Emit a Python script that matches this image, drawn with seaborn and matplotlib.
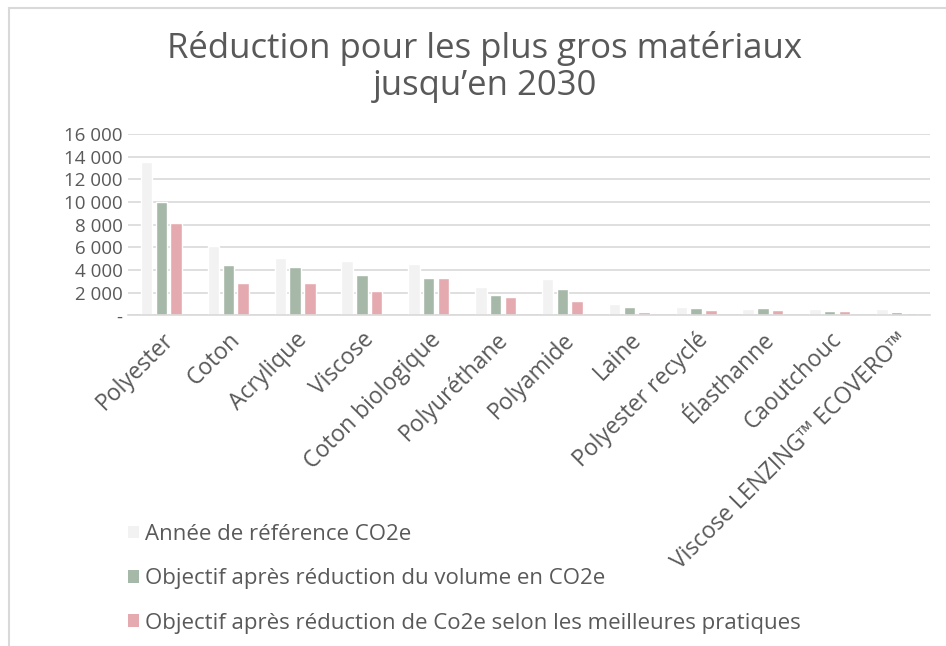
import matplotlib.pyplot as plt
import matplotlib.ticker as mticker
from matplotlib.patches import Patch, Rectangle
import pandas as pd
import seaborn as sns


MATERIALS = [
    "Polyester", "Coton", "Acrylique", "Viscose", "Coton biologique",
    "Polyuréthane", "Polyamide", "Laine", "Polyester recyclé",
    "Élasthanne", "Caoutchouc", "Viscose LENZING™ ECOVERO™",
]
SERIES = [
    "Année de référence CO2e",
    "Objectif après réduction du volume en CO2e",
    "Objectif après réduction de Co2e selon les meilleures pratiques",
]
BASELINE = [13550, 6100, 5100, 4800, 4550, 2500, 3200, 970, 730, 560, 560, 560]
VOLUME_TARGET = [10000, 4470, 4270, 3560, 3330, 1800, 2350, 730, 620, 620, 380, 320]
BEST_PRACTICE = [8120, 2880, 2820, 2150, 3330, 1620, 1290, 290, 500, 440, 350, 180]
COLORS = ["#F2F2F2", "#A6B9A8", "#E4AAAF"]
TEXT_COLOR = "#595959"
GRID_COLOR = "#D9D9D9"

df = pd.DataFrame({
    "material": MATERIALS * 3,
    "series": [s for s in SERIES for _ in MATERIALS],
    "value": BASELINE + VOLUME_TARGET + BEST_PRACTICE,
})

sns.set_theme(style="white")
plt.rcParams["font.family"] = ["Open Sans", "DejaVu Sans"]

fig = plt.figure(figsize=(9.46, 6.46), dpi=100)
ax = fig.add_axes([128 / 946, 1 - 315.3 / 646, (930 - 128) / 946, (315.3 - 134) / 646])

sns.barplot(
    data=df, x="material", y="value", hue="series", order=MATERIALS,
    hue_order=SERIES, palette=COLORS, width=0.66, gap=0.22,
    saturation=1, ax=ax, legend=False,
)

ax.set_ylim(0, 16000)
ax.set_xlim(-0.5, len(MATERIALS) - 0.5)
ax.yaxis.set_major_locator(mticker.MultipleLocator(2000))
ax.yaxis.set_major_formatter(
    mticker.FuncFormatter(lambda v, _: "-" if v == 0 else f"{int(v):,}".replace(",", " "))
)
ax.grid(axis="y", color=GRID_COLOR, linewidth=1.2)
ax.set_axisbelow(True)
for side in ["top", "right", "left"]:
    ax.spines[side].set_visible(False)
ax.spines["bottom"].set_color(GRID_COLOR)
ax.spines["bottom"].set_linewidth(1.2)
ax.set_xlabel("")
ax.set_ylabel("")
ax.tick_params(axis="both", length=0, colors=TEXT_COLOR)
ax.tick_params(axis="y", pad=4, labelsize=13.5)
ax.tick_params(axis="x", pad=9, labelsize=16.5)
plt.setp(ax.get_xticklabels(), rotation=45, ha="right", rotation_mode="anchor")

fig.text(485 / 946, 1 - 67 / 646, "Réduction pour les plus gros matériaux\njusqu’en 2030",
         ha="center", va="center", fontsize=25, color=TEXT_COLOR, linespacing=1.15)

handles = [Patch(facecolor=c, edgecolor="none") for c in COLORS]
fig.legend(handles, SERIES, loc="upper left", bbox_to_anchor=(108 / 946, 1 - 504 / 646),
           frameon=False, fontsize=16, labelcolor=TEXT_COLOR, handlelength=0.5,
           handleheight=0.5, handletextpad=0.25, labelspacing=1.05)

fig.patches.append(Rectangle((9 / 946, -0.1), 1.2, 1 - 8 / 646 + 0.1, fill=False,
                             edgecolor=GRID_COLOR, linewidth=1.5, transform=fig.transFigure))

fig.savefig("out.png", dpi=100)
